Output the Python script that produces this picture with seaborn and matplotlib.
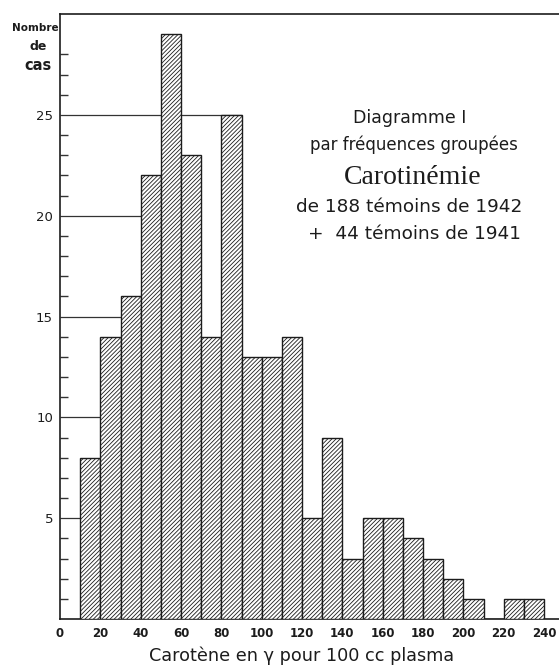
import matplotlib
matplotlib.use("Agg")
import matplotlib.pyplot as plt
import numpy as np
import pandas as pd
import seaborn as sns
from matplotlib.ticker import FixedLocator

sns.set_style("ticks")
plt.rcParams["font.family"] = ["DejaVu Sans"]
plt.rcParams["hatch.linewidth"] = 0.6
plt.rcParams["hatch.color"] = "#3a3a3a"

# bins of 10 gamma, from 10 to 240
binStarts = [10, 20, 30, 40, 50, 60, 70, 80, 90, 100, 110, 120, 130, 140, 150,
             160, 170, 180, 190, 200, 210, 220, 230]
binCounts = [8, 14, 16, 22, 29, 23, 14, 25, 13, 13, 14, 5, 9, 3, 5,
             5, 4, 3, 2, 1, 0, 1, 1]
xTicks = [0, 20, 40, 60, 80, 100, 120, 140, 160, 180, 200, 220, 240]
yTicks = [5, 10, 15, 20, 25]

df = pd.DataFrame({"start": binStarts, "count": binCounts})
df["mid"] = df["start"] + 5
edges = binStarts + [binStarts[-1] + 10]

ink = "#1c1c1c"

fig = plt.figure(figsize=(5.59, 6.68), dpi=100)
ax = fig.add_axes([60 / 559, 1 - 619 / 668, 1 - 60 / 559, 605 / 668])

sns.histplot(data=df, x="mid", weights="count", bins=edges, ax=ax,
             color="white", edgecolor=ink, linewidth=1.0, alpha=1, zorder=3)
for p in ax.patches:
    p.set_hatch("////////")

# horizontal reference lines at the major ticks, behind the bars
for y in yTicks:
    ax.hlines(y, 0, 90 if y == 25 else 60, color="#333333", lw=0.9, zorder=1)

ax.set_xlim(0, 247.4)
ax.set_ylim(0, 30)
ax.set_xlabel("")
ax.set_ylabel("")

ax.xaxis.set_major_locator(FixedLocator(xTicks))
ax.set_xticklabels([str(v) for v in xTicks], fontsize=8.5, fontweight="bold", color=ink)
ax.tick_params(axis="x", length=0, pad=6)

ax.yaxis.set_major_locator(FixedLocator(yTicks))
ax.yaxis.set_minor_locator(FixedLocator([v for v in range(1, 29) if v % 5]))
ax.set_yticklabels([str(v) for v in yTicks], fontsize=9.5, color=ink)
ax.tick_params(axis="y", which="major", length=0, pad=5)
ax.tick_params(axis="y", which="minor", direction="in", length=6, width=1, color="#333333")

for side in ["left", "bottom", "top"]:
    ax.spines[side].set_color(ink)
    ax.spines[side].set_linewidth(1.2)
ax.spines["right"].set_visible(False)

fig.text(35 / 559, 1 - 28 / 668, "Nombre", ha="center", va="center",
         fontsize=7.5, fontweight="bold", color=ink)
fig.text(38 / 559, 1 - 47 / 668, "de", ha="center", va="center",
         fontsize=9, fontweight="bold", color=ink)
fig.text(38 / 559, 1 - 66 / 668, "cas", ha="center", va="center",
         fontsize=10.5, fontweight="bold", color=ink)

fig.text(410 / 559, 1 - 118 / 668, "Diagramme I", ha="center", va="center", fontsize=12.5, color=ink)
fig.text(414 / 559, 1 - 145 / 668, "par fréquences groupées", ha="center", va="center", fontsize=12, color=ink)
fig.text(413 / 559, 1 - 177 / 668, "Carotinémie", ha="center", va="center", fontsize=20,
         family="Liberation Serif", color=ink)
fig.text(409 / 559, 1 - 207 / 668, "de 188 témoins de 1942", ha="center", va="center", fontsize=13.3, color=ink)
fig.text(415 / 559, 1 - 234 / 668, "+  44 témoins de 1941", ha="center", va="center", fontsize=13.3, color=ink)

fig.text(302 / 559, 1 - 656 / 668, "Carotène en γ pour 100 cc plasma", ha="center", va="center",
         fontsize=12.7, color=ink)

fig.savefig("out.png", dpi=100)
